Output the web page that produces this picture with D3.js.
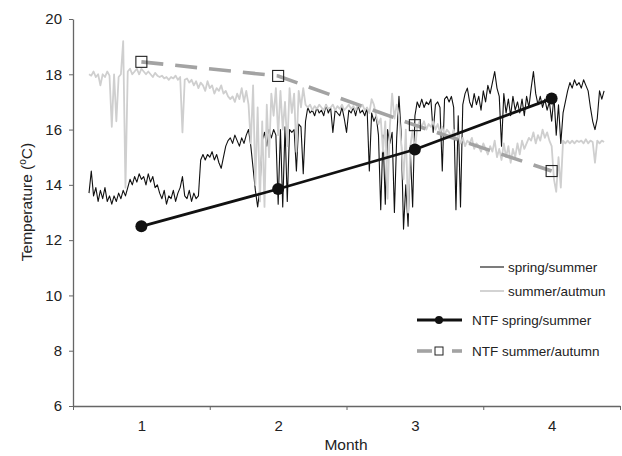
<!DOCTYPE html>
<html><head><meta charset="utf-8">
<script src="https://cdn.jsdelivr.net/npm/d3@7"></script>
<style>
html,body{margin:0;padding:0;background:#fff;}
text{font-family:"Liberation Sans",Arial,sans-serif;}
</style></head>
<body><svg id="c" width="622" height="456"></svg>
<script>
// ---- data ----
const months = [1, 2, 3, 4];
const yTicks = [6, 8, 10, 12, 14, 16, 18, 20];
const ntfSpring = [12.5, 13.85, 15.28, 17.12];
const ntfSummer = [18.45, 17.94, 16.16, 14.5];
const seriesStartMonth = 0.617;
const stepDays = 0.5;
const springSummer = [
13.7,14.5,13.6,13.9,13.4, 13.8,13.5,13.9,13.4,13.6, 13.3,13.6,13.4,13.7, 13.5,13.8,13.6,13.9,
14.2,14.0,14.3,14.1,14.4, 14.2,14.3,14.0,14.4, 14.1,14.3,13.9,14.0,13.7, 13.5,13.8,13.3,13.6,
13.5,13.8,13.4,13.7, 13.9,14.3,13.6,13.5,13.8, 13.4,13.7,13.5,13.6, 14.9,15.1,14.9,15.1,15.0,
15.2,14.9,15.1,14.8, 14.6,15.0,15.4,15.6, 15.7,15.5,15.8,15.6,15.4, 15.7,15.5,15.8,16.0,
15.4,14.6,13.8,13.2,13.9, 15.6,15.9,15.4,16.0, 15.7,16.0,15.8,13.3, 16.0,13.2,16.1,13.4,16.0,
15.9,16.0,14.5,16.2, 16.1,14.4,16.3,16.8,16.6, 16.7,16.5,16.8,16.6, 16.7,16.5,16.9,16.6,
16.8,15.9,16.7,16.6,16.5, 16.8,16.4,15.9,16.7, 16.6,16.8,16.5,16.9,16.6, 16.7,16.5,16.8,14.5,
16.6,16.3,16.5,15.8, 13.1,15.8,13.3,16.0,15.5, 15.9,13.0,15.7,17.2, 15.8,12.4,14.0,12.5,15.2,
13.2,16.5,17.0,16.8, 17.1,16.8,17.0,16.9, 17.1,15.9,16.9,17.0,16.8, 14.5,17.1,17.2,17.0,
17.2,16.8,13.1,16.5, 13.2,16.9,17.3,17.5,17.0, 16.8,17.3,16.9,17.2, 16.7,17.4,17.0,17.6,17.3,
17.7,18.1,17.5,17.2, 15.4,17.3,16.6,17.1, 16.5,17.2,16.7,17.0,16.6, 17.1,16.5,17.2,16.8,
17.5,18.1,17.3,16.9,17.2, 16.8,17.1,16.7,17.0, 16.3,17.2,15.8,16.9, 15.5,16.6,17.0,17.4,17.7,
17.5,17.8,17.6,17.7, 17.5,17.8,17.6,17.4,16.8, 16.3,16.0,16.4,17.4, 17.1,17.4
];
const summerAutumn = [
18.0,17.95,18.1,17.9,18.0, 17.6,18.0,17.9,18.1,17.95, 16.1,18.0,16.3,17.9, 18.0,19.2,13.9,18.1,
18.2,18.0,18.1,18.2,18.0, 18.2,18.1,18.0,18.1, 18.0,17.9,18.05,17.95,17.9, 17.95,17.85,17.9,17.8,
17.9,17.85,17.95,17.8, 17.9,15.9,17.8,17.85,17.7, 17.8,17.6,17.75,17.5, 17.7,17.6,17.4,17.75,17.5,
17.6,17.3,17.5,17.4, 17.6,17.3,17.4,17.2, 17.1,17.2,17.0,17.3,17.1, 17.5,17.0,17.4,16.9,
15.5,17.6,14.0,16.8,13.4, 16.3,13.2,16.9,15.0, 17.3,16.5,17.5,15.8, 17.4,16.0,17.0,15.4,17.5,
16.6,17.3,15.2,17.4, 16.8,17.5,16.9,16.8,16.9, 16.7,16.85,16.75,16.9, 16.8,16.7,16.9,16.75,
16.8,16.9,16.7,16.85,16.75, 16.9,16.7,16.8,16.9, 16.75,16.85,16.7,16.9,16.8, 16.9,16.7,16.8,16.6,
17.1,16.9,16.5,16.2, 16.4,15.2,16.3,13.5,16.1, 17.3,16.4,16.9,16.5, 15.5,14.2,16.0,13.0,15.4,
16.0,15.2,16.1,16.3, 16.1,16.3,16.0,16.2, 16.1,16.3,16.0,16.2,15.9, 16.1,15.8,16.0,15.9,
15.7,16.0,15.6,15.8, 15.5,15.7,15.4,15.6,15.5, 15.7,15.3,15.5,15.4, 15.2,15.5,15.3,15.1,15.4,
15.2,15.6,15.0,15.3, 14.9,15.5,15.0,15.4, 14.8,15.3,15.0,15.5,15.1, 15.6,15.3,15.5,15.7,
15.6,15.9,15.5,15.8,15.6, 16.0,15.7,15.9,15.6, 15.4,14.2,13.75,15.0, 13.9,15.6,15.5,15.6,15.5,
15.6,15.5,15.6,15.55, 15.6,15.5,15.65,15.5,15.6, 15.55,14.8,15.6,15.5, 15.6,15.55
];
const legendLabels = ["spring/summer", "summer/autmun", "NTF spring/summer", "NTF summer/autumn"];

// ---- drawing ----
const svg = d3.select("#c");
const x = d3.scaleLinear().domain([0.5, 4.5]).range([73, 620]);
const y = d3.scaleLinear().domain([6, 20]).range([406, 19]);
const tOf = i => seriesStartMonth + i * stepDays / 30;
const axisColor = "#666";

// y axis
const gy = svg.append("g").attr("transform", "translate(73,0)")
  .call(d3.axisLeft(y).tickValues(yTicks).tickSize(4).tickSizeOuter(0).tickPadding(7).tickFormat(d3.format("d")));
gy.select(".domain").attr("stroke", axisColor).attr("stroke-width", 1.3);
gy.selectAll(".tick line").attr("stroke", axisColor);
gy.selectAll("text").attr("font-size", 15).attr("fill", "#222").style("font-family", "'Liberation Sans',Arial,sans-serif");

// x axis (tick marks at month boundaries)
const gx = svg.append("g").attr("transform", "translate(0,406)")
  .call(d3.axisBottom(x).tickValues([0.5, 1.5, 2.5, 3.5, 4.5]).tickSize(4).tickSizeOuter(0).tickFormat(""));
gx.select(".domain").attr("stroke", axisColor).attr("stroke-width", 1.3);
gx.selectAll(".tick line").attr("stroke", axisColor);
const gxl = svg.append("g").attr("transform", "translate(0,406)")
  .call(d3.axisBottom(x).tickValues(months).tickSize(0).tickPadding(14).tickFormat(d3.format("d")));
gxl.select(".domain").remove();
gxl.selectAll("text").attr("font-size", 15).attr("fill", "#222").style("font-family", "'Liberation Sans',Arial,sans-serif");

// axis titles
svg.append("text").attr("x", 346).attr("y", 450).attr("text-anchor", "middle")
  .attr("font-size", 15.5).attr("fill", "#222").text("Month");
const yt = svg.append("text").attr("transform", "translate(32,202) rotate(-90)")
  .attr("text-anchor", "middle").attr("font-size", 15.5).attr("fill", "#222");
yt.append("tspan").text("Temperature (");
yt.append("tspan").attr("font-size", 10).attr("dy", -6).text("o");
yt.append("tspan").attr("dy", 6).text("C)");

// time series
const line = d3.line().x((d, i) => x(tOf(i))).y(d => y(d));
svg.append("path").datum(springSummer).attr("d", line)
  .attr("fill", "none").attr("stroke", "#111").attr("stroke-width", 1.1).attr("stroke-linejoin", "round");
svg.append("path").datum(summerAutumn).attr("d", line)
  .attr("fill", "none").attr("stroke", "#cfcfcf").attr("stroke-width", 1.8).attr("stroke-linejoin", "round");

// NTF series
const ntfLine = d3.line().x((d, i) => x(months[i])).y(d => y(d));
svg.append("path").datum(ntfSummer).attr("d", ntfLine)
  .attr("fill", "none").attr("stroke", "#a3a3a3").attr("stroke-width", 3.6).attr("stroke-dasharray", "22,12");
svg.selectAll(".sq").data(ntfSummer).enter().append("rect")
  .attr("x", (d, i) => x(months[i]) - 5.5).attr("y", d => y(d) - 5.5)
  .attr("width", 11).attr("height", 11).attr("fill", "none").attr("stroke", "#222").attr("stroke-width", 1.1);
svg.append("path").datum(ntfSpring).attr("d", ntfLine)
  .attr("fill", "none").attr("stroke", "#111").attr("stroke-width", 2.8);
svg.selectAll(".ci").data(ntfSpring).enter().append("circle")
  .attr("cx", (d, i) => x(months[i])).attr("cy", d => y(d)).attr("r", 6).attr("fill", "#111");

// legend
const lg = svg.append("g").attr("font-size", 13.5).attr("fill", "#222");
lg.append("line").attr("x1", 480).attr("x2", 504).attr("y1", 267).attr("y2", 267).attr("stroke", "#111").attr("stroke-width", 1.1);
lg.append("text").attr("x", 508).attr("y", 267).attr("dy", "0.35em").text(legendLabels[0]);
lg.append("line").attr("x1", 480).attr("x2", 504).attr("y1", 291).attr("y2", 291).attr("stroke", "#cfcfcf").attr("stroke-width", 1.8);
lg.append("text").attr("x", 508).attr("y", 291).attr("dy", "0.35em").text(legendLabels[1]);
lg.append("line").attr("x1", 417).attr("x2", 462).attr("y1", 320).attr("y2", 320).attr("stroke", "#111").attr("stroke-width", 2.8);
lg.append("circle").attr("cx", 439).attr("cy", 320).attr("r", 4).attr("fill", "#111");
lg.append("text").attr("x", 472).attr("y", 320).attr("dy", "0.35em").text(legendLabels[2]);
lg.append("line").attr("x1", 417).attr("x2", 432).attr("y1", 351).attr("y2", 351).attr("stroke", "#a3a3a3").attr("stroke-width", 3.6);
lg.append("line").attr("x1", 452).attr("x2", 462).attr("y1", 351).attr("y2", 351).attr("stroke", "#a3a3a3").attr("stroke-width", 3.6);
lg.append("rect").attr("x", 435).attr("y", 347).attr("width", 8).attr("height", 8).attr("fill", "none").attr("stroke", "#222").attr("stroke-width", 1);
lg.append("text").attr("x", 472).attr("y", 351).attr("dy", "0.35em").text(legendLabels[3]);
</script></body></html>
